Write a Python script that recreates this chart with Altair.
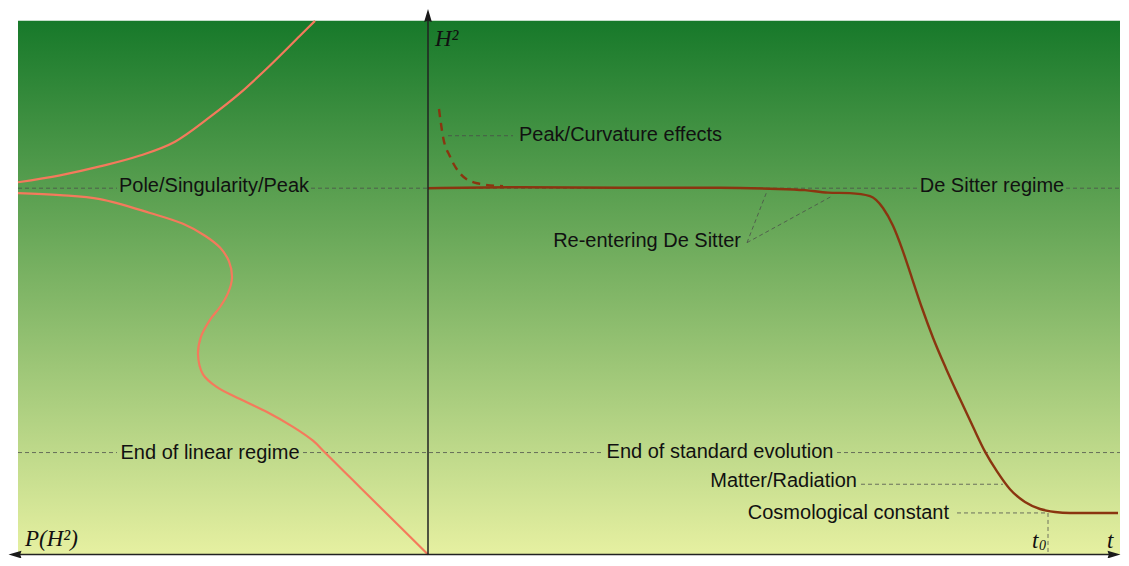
import altair as alt
import pandas as pd

# ---------------- data (t = time axis, P = probability axis drawn leftwards, h = H^2) -------------
# Left panel: probability distribution P(H^2), upper and lower branches
upper_P = [410, 368, 328, 288, 253, 218, 188, 158, 128, 113]
upper_H = [376, 383, 392, 403, 417, 442, 466, 494, 524, 539]
lower_P = [410, 368, 328, 278, 245, 223, 208, 199, 196, 200, 208, 218, 227, 230, 225, 211,
           188, 161, 135, 115, 103, 75, 45, 0]
lower_H = [365, 363, 359, 345, 334, 322, 310, 296, 279, 264, 250, 237, 220, 202, 182, 169,
           157, 144, 129, 115, 103, 75, 45, 0]

# Right panel: evolution of H^2 with time
evo_t = [0, 92, 192, 292, 342, 377, 400, 422, 442, 455, 465, 474, 484, 494, 505, 518, 532,
         545, 557, 569, 582, 597, 612, 627, 642, 690]
evo_H = [370, 371, 370.5, 370.5, 369.5, 368, 365.5, 365, 362, 350, 332, 309, 279, 249, 219,
         188, 157, 129, 104, 84, 66, 53, 46, 43, 42, 42]

# Peak / curvature effects (dashed)
peak_t = [11, 15, 22, 32, 49, 75]
peak_H = [450, 422, 402, 385, 375, 372]

# Dashed guide segments (start/end)
guide_t1 = [-410, -117, 638, -410, -125, 409, 20, 433, 529, 620, 319, 319]
guide_H1 = [370, 370, 370, 103, 103, 103, 423, 71, 42, 42, 315, 315]
guide_t2 = [-311, 489, 692, -311, 175, 692, 85, 575, 620, 620, 339, 404]
guide_H2 = [370, 370, 370, 103, 103, 103, 423, 71, 42, 0, 367, 362]

# Labels
center_labels = ["Pole/Singularity/Peak", "De Sitter regime", "End of linear regime",
                 "End of standard evolution"]
center_t = [-214, 564, -218, 292]
center_H = [372, 372, 103, 104]
left_labels = ["Peak/Curvature effects"]
left_t = [91]
left_H = [424]
right_labels = ["Re-entering De Sitter", "Matter/Radiation", "Cosmological constant"]
right_t = [313, 429, 521]
right_H = [317, 74, 42]

serif_labels = ["H\u00b2", "P(H\u00b2)", "t", "t"]
serif_t = [7, -403, 679, 604]
serif_H = [514, 9, 7, 7]
sub_labels = ["0"]
sub_t = [611]
sub_H = [5]

# Axis extents
axis_t_min, axis_t_max = -413, 686
axis_h_max = 544.5
panel_t = [-410, 692]
panel_H = [0, 539]

# ---------------- scales -------------
W, H = 1113, 550
XS = alt.Scale(domain=[-420, 693], nice=False, zero=False)
YS = alt.Scale(domain=[-3.5, 552], nice=False, zero=False)


def xe(f):
    return alt.X(f, type="quantitative", scale=XS, axis=None)


def ye(f):
    return alt.Y(f, type="quantitative", scale=YS, axis=None)


# background gradient panel
bg_df = pd.DataFrame({"t": [panel_t[0]], "t2": [panel_t[1]], "h": [panel_H[0]], "h2": [panel_H[1]]})
grad = alt.LinearGradient(
    gradient="linear",
    stops=[alt.GradientStop(color="#17792a", offset=0),
           alt.GradientStop(color="#e6f0a1", offset=1)],
    x1=0, x2=0, y1=0, y2=1,
)
bg = alt.Chart(bg_df).mark_rect(fill=grad, strokeWidth=0).encode(
    x=xe("t"), x2=alt.X2("t2"), y=ye("h"), y2=alt.Y2("h2"))

# dashed guides
g_df = pd.DataFrame({"t": guide_t1, "h": guide_H1, "t2": guide_t2, "h2": guide_H2})
guides = alt.Chart(g_df).mark_rule(color="#4a4a4a", strokeWidth=1, strokeDash=[4, 3],
                                   opacity=0.75).encode(
    x=xe("t"), y=ye("h"), x2=alt.X2("t2"), y2=alt.Y2("h2"))

# left curves
up_df = pd.DataFrame({"t": [-p for p in upper_P], "h": upper_H})
lo_df = pd.DataFrame({"t": [-p for p in lower_P], "h": lower_H, "i": list(range(len(lower_P)))})
up_line = alt.Chart(up_df).mark_line(color="#f47a5c", strokeWidth=2.2,
                                     interpolate="monotone").encode(x=xe("t"), y=ye("h"))
lo_line = alt.Chart(lo_df).mark_line(color="#f47a5c", strokeWidth=2.2,
                                     interpolate="catmull-rom").encode(
    x=xe("t"), y=ye("h"), order=alt.Order("i:Q"))

# right curves
evo_df = pd.DataFrame({"t": evo_t, "h": evo_H})
evo_line = alt.Chart(evo_df).mark_line(color="#8a3510", strokeWidth=2.4,
                                       interpolate="monotone").encode(x=xe("t"), y=ye("h"))
pk_df = pd.DataFrame({"t": peak_t, "h": peak_H})
pk_line = alt.Chart(pk_df).mark_line(color="#8a3510", strokeWidth=2.4, strokeDash=[8, 6],
                                     interpolate="monotone").encode(x=xe("t"), y=ye("h"))

# axes
ax_df = pd.DataFrame({"t": [axis_t_min + 2, 0], "t2": [axis_t_max - 2, 0], "h": [0, 0],
                      "h2": [0, axis_h_max - 2]})
axes = alt.Chart(ax_df).mark_rule(color="#222222", strokeWidth=1.5).encode(
    x=xe("t"), y=ye("h"), x2=alt.X2("t2"), y2=alt.Y2("h2"))

arrow_left = alt.Chart(pd.DataFrame({"t": [axis_t_min], "h": [0]})).mark_point(
    shape="M-1,0L1,-0.6L0.8,0L1,0.6Z", size=169, filled=True, color="#1a1a1a", opacity=1,
    strokeWidth=0).encode(x=xe("t"), y=ye("h"))
arrow_right = alt.Chart(pd.DataFrame({"t": [axis_t_max], "h": [0]})).mark_point(
    shape="M1,0L-1,-0.6L-0.8,0L-1,0.6Z", size=169, filled=True, color="#1a1a1a", opacity=1,
    strokeWidth=0).encode(x=xe("t"), y=ye("h"))
arrow_up = alt.Chart(pd.DataFrame({"t": [0], "h": [axis_h_max]})).mark_point(
    shape="M0,-1L-0.6,1L0,0.8L0.6,1Z", size=169, filled=True, color="#1a1a1a", opacity=1,
    strokeWidth=0).encode(x=xe("t"), y=ye("h"))


# labels
def text_layer(labels, ts, hs, align):
    df = pd.DataFrame({"t": ts, "h": hs, "label": labels})
    return alt.Chart(df).mark_text(font="Liberation Sans", fontSize=20, color="#111111",
                                   align=align, baseline="middle").encode(
        x=xe("t"), y=ye("h"), text="label:N")


txt_c = text_layer(center_labels, center_t, center_H, "center")
txt_l = text_layer(left_labels, left_t, left_H, "left")
txt_r = text_layer(right_labels, right_t, right_H, "right")

serif_df = pd.DataFrame({"t": serif_t, "h": serif_H, "label": serif_labels})
serif = alt.Chart(serif_df).mark_text(font="Liberation Serif", fontStyle="italic", fontSize=23,
                                      color="#111111", align="left",
                                      baseline="alphabetic").encode(
    x=xe("t"), y=ye("h"), text="label:N")
sub_df = pd.DataFrame({"t": sub_t, "h": sub_H, "label": sub_labels})
sub = alt.Chart(sub_df).mark_text(font="Liberation Serif", fontStyle="italic", fontSize=14,
                                  color="#111111", align="left", baseline="alphabetic").encode(
    x=xe("t"), y=ye("h"), text="label:N")

chart = alt.layer(bg, guides, up_line, lo_line, evo_line, pk_line, axes, arrow_left,
                  arrow_right, arrow_up, txt_c, txt_l, txt_r, serif, sub).properties(
    width=W, height=H, padding=0, autosize="none", background="white"
).configure_view(stroke=None)

chart.save("out.html", embed_options={"renderer": "svg", "actions": False})
